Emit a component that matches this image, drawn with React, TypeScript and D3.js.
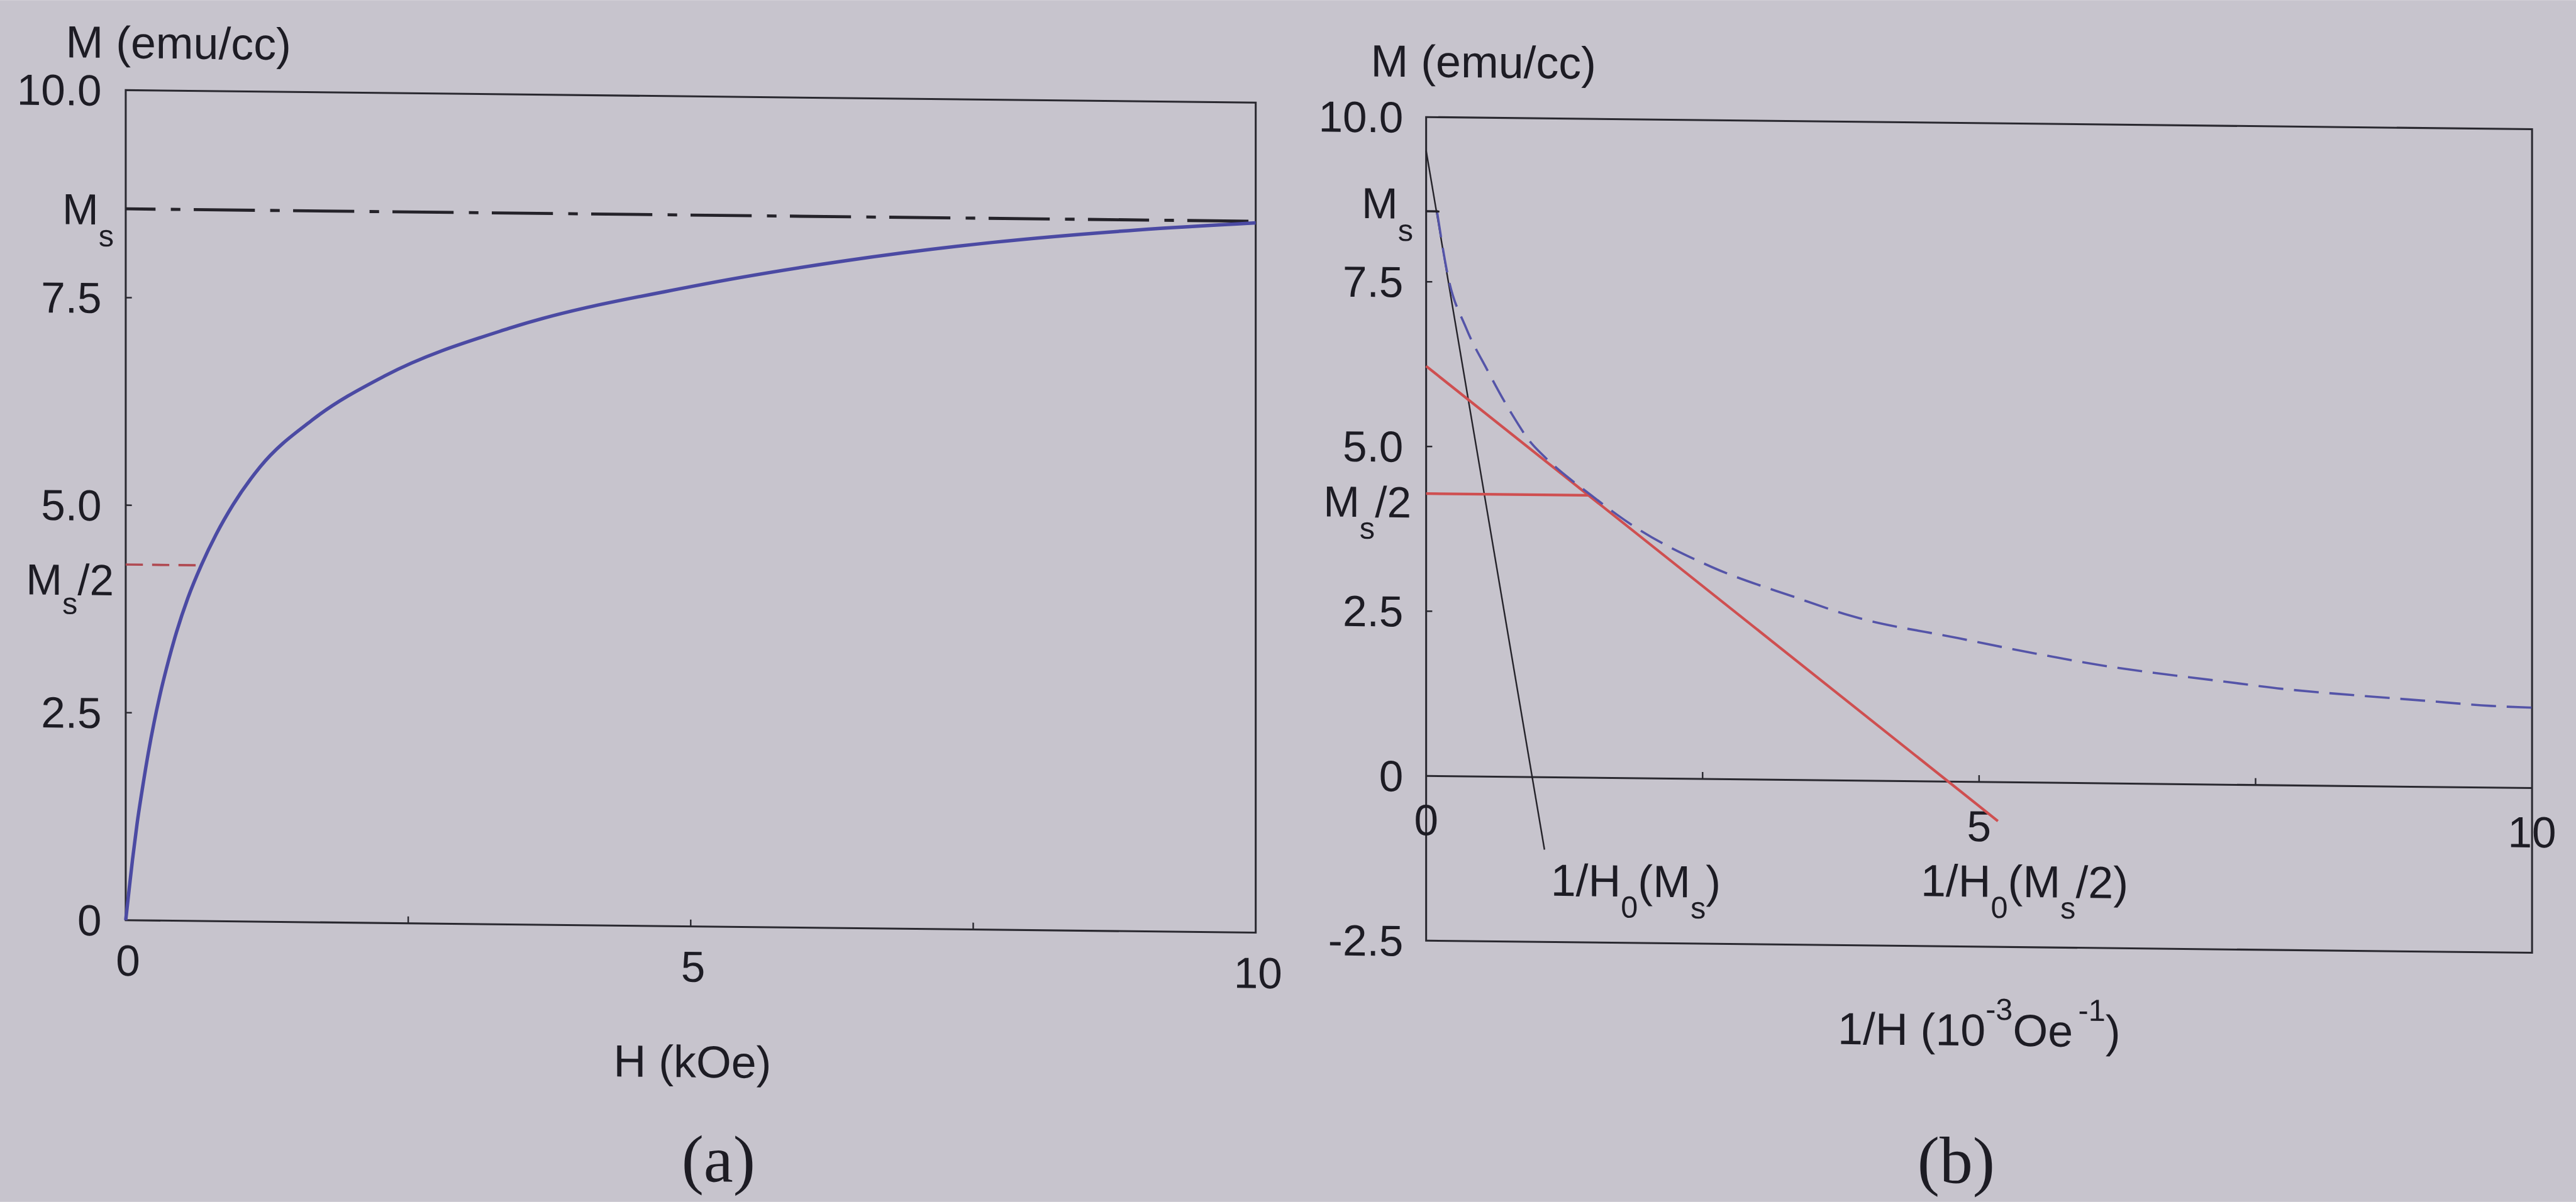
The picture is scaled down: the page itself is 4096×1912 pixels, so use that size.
import React from "react";
import * as d3 from "d3";

// Saturation magnetisation and its half value (emu/cc)
const MS = 8.57;
const MS_HALF = MS / 2;

// (a) magnetisation curve M(H)
const fieldKOe = [0, 0.03, 0.06, 0.1, 0.15, 0.2, 0.25, 0.3, 0.38, 0.45, 0.55, 0.67, 0.8, 0.95, 1.19, 1.65, 2.29, 3.39, 5.01, 6.37, 7.67, 8.96, 10];
const magA = [0, 0.37, 0.73, 1.16, 1.61, 2.02, 2.38, 2.7, 3.14, 3.48, 3.89, 4.29, 4.66, 5.02, 5.48, 6.05, 6.59, 7.18, 7.71, 8.04, 8.28, 8.45, 8.55];

// (b) the same curve against inverse field, 1/H in 10^-3 Oe^-1
const invField = [0.1, 0.197, 0.36, 0.55, 0.77, 0.95, 1.06, 1.49, 1.9, 2.58, 3.36, 3.84, 4.81, 5.54, 6.11, 7.19, 7.77, 8.39, 9.01, 9.63, 10];
const magB = [8.55, 7.59, 6.81, 6.18, 5.52, 5.07, 4.88, 4.29, 3.8, 3.22, 2.76, 2.5, 2.18, 1.95, 1.79, 1.57, 1.46, 1.38, 1.31, 1.24, 1.22];

// (b) tangent lines: [1/H, M] end points
const tangentAtMs: [number, number][] = [[0, 9.49], [1.07, -1.1]];
const tangentAtHalf: [number, number][] = [[0, 6.22], [5.17, -0.59]];
const msGuideEnd = 0.12;

// axis ticks
const aYTicks = [0, 2.5, 5, 7.5, 10];
const aXLabels = [0, 5, 10];
const aXMarks = [2.5, 5, 7.5];
const bYTicks = [-2.5, 0, 2.5, 5, 7.5, 10];
const bXLabels = [0, 5, 10];
const bXMarks = [2.5, 5, 7.5];
const yMarks = [2.5, 5, 7.5];

const W = 6741;
const H = 3146;
const SANS = "'Liberation Sans', Arial, Helvetica, sans-serif";
const SERIF = "'Liberation Serif', 'Times New Roman', serif";
const INK = "#1d1c24";
const TICK = 114;
const TITLE = 118;
const SUB = 80;

const fmt = (d: number) => (d === 0 ? "0" : d.toFixed(1));

function interpX(xs: number[], ys: number[], target: number) {
  for (let i = 1; i < xs.length; i++) {
    const y0 = ys[i - 1], y1 = ys[i];
    if ((y0 - target) * (y1 - target) <= 0 && y1 !== y0) {
      return xs[i - 1] + ((target - y0) / (y1 - y0)) * (xs[i] - xs[i - 1]);
    }
  }
  return xs[xs.length - 1];
}

export default function App() {
  const xA = d3.scaleLinear().domain([0, 10]).range([329, 3286]);
  const yA = d3.scaleLinear().domain([0, 10]).range([2405, 232]);
  const xB = d3.scaleLinear().domain([0, 10]).range([3732, 6626]);
  const yB = d3.scaleLinear().domain([-2.5, 10]).range([2421, 265]);

  const ptsA: [number, number][] = fieldKOe.map((h, i) => [h, magA[i]]);
  const ptsB: [number, number][] = invField.map((x, i) => [x, magB[i]]);

  const lineA = d3.line<[number, number]>().x(d => xA(d[0])).y(d => yA(d[1])).curve(d3.curveMonotoneX);
  const lineB = d3.line<[number, number]>().x(d => xB(d[0])).y(d => yB(d[1])).curve(d3.curveMonotoneX);
  const straightB = d3.line<[number, number]>().x(d => xB(d[0])).y(d => yB(d[1]));

  const halfCrossA = interpX(fieldKOe, magA, MS_HALF);
  const [t0, t1] = tangentAtHalf;
  const halfTouchB = t0[0] + ((MS_HALF - t0[1]) * (t1[0] - t0[0])) / (t1[1] - t0[1]);

  return (
    <svg
      width={4096}
      height={1912}
      viewBox={`0 0 ${W} ${H}`}
      style={{ position: "absolute", left: 0, top: 0 }}
    >
      <rect x={0} y={0} width={W} height={H} fill="#c7c4cd" />
      <g transform="matrix(1,0.011,0,1,0,0)" fill={INK} fontFamily={SANS}>
        {/* ---------- panel (a) ---------- */}
        <rect x={xA(0)} y={yA(10)} width={xA(10) - xA(0)} height={yA(0) - yA(10)} fill="none" stroke="#2a2930" strokeWidth={5} />
        {yMarks.map(v => (
          <line key={`aym${v}`} x1={xA(0)} x2={xA(0) + 16} y1={yA(v)} y2={yA(v)} stroke="#2a2930" strokeWidth={4} />
        ))}
        {aXMarks.map(v => (
          <line key={`axm${v}`} x1={xA(v)} x2={xA(v)} y1={yA(0)} y2={yA(0) - 18} stroke="#2a2930" strokeWidth={4} />
        ))}
        {aYTicks.map(v => (
          <text key={`ayt${v}`} x={266} y={yA(v) + 0.36 * TICK} fontSize={TICK} textAnchor="end">{fmt(v)}</text>
        ))}
        {aXLabels.map(v => (
          <text key={`axt${v}`} x={xA(v) + 6} y={2550} fontSize={TICK} textAnchor="middle">{v}</text>
        ))}
        <text x={172} y={148} fontSize={TITLE}>M (emu/cc)</text>
        <text x={1812} y={2800} fontSize={TITLE} textAnchor="middle">H (kOe)</text>
        <text x={1880} y={3072} fontSize={174} fontFamily={SERIF} textAnchor="middle">(a)</text>

        <text x={298} y={yA(MS) + 42} fontSize={TICK} textAnchor="end">
          M<tspan fontSize={SUB} dy={57}>s</tspan>
        </text>
        <text x={298} y={yA(MS_HALF) + 81} fontSize={TICK} textAnchor="end">
          M<tspan fontSize={SUB} dy={50}>s</tspan><tspan fontSize={TICK} dy={-50}>/2</tspan>
        </text>

        <line x1={xA(0)} x2={xA(10)} y1={yA(MS)} y2={yA(MS)} stroke="#25232a" strokeWidth={8} strokeDasharray="160,40,25,35" strokeDashoffset={82} />
        <line x1={xA(0)} x2={xA(halfCrossA)} y1={yA(MS_HALF)} y2={yA(MS_HALF)} stroke="#b04a52" strokeWidth={6} strokeDasharray="45,24" />
        <path d={lineA(ptsA) || ""} fill="none" stroke="#4b4aa3" strokeWidth={9} strokeLinejoin="round" />

        {/* ---------- panel (b) ---------- */}
        <rect x={xB(0)} y={yB(10)} width={xB(10) - xB(0)} height={yB(-2.5) - yB(10)} fill="none" stroke="#2a2930" strokeWidth={5} />
        <line x1={xB(0)} x2={xB(10)} y1={yB(0)} y2={yB(0)} stroke="#2a2930" strokeWidth={5} />
        {yMarks.map(v => (
          <line key={`bym${v}`} x1={xB(0)} x2={xB(0) + 16} y1={yB(v)} y2={yB(v)} stroke="#2a2930" strokeWidth={4} />
        ))}
        {bXMarks.map(v => (
          <line key={`bxm${v}`} x1={xB(v)} x2={xB(v)} y1={yB(0)} y2={yB(0) - 18} stroke="#2a2930" strokeWidth={4} />
        ))}
        {bYTicks.map(v => (
          <text key={`byt${v}`} x={3672} y={yB(v) + 0.36 * TICK} fontSize={TICK} textAnchor="end">{fmt(v)}</text>
        ))}
        {bXLabels.map(v => (
          <text key={`bxt${v}`} x={xB(v)} y={2145} fontSize={TICK} textAnchor="middle">{v}</text>
        ))}
        <text x={3587} y={160} fontSize={TITLE}>M (emu/cc)</text>
        <text x={5179} y={2680} fontSize={TITLE} textAnchor="middle">
          1/H (10<tspan fontSize={SUB} dy={-68}>-3</tspan><tspan dy={68}>Oe</tspan><tspan fontSize={SUB} dx={14} dy={-68}>-1</tspan><tspan dy={68}>)</tspan>
        </text>
        <text x={5119} y={3040} fontSize={174} fontFamily={SERIF} textAnchor="middle">(b)</text>

        <text x={3698} y={yB(MS) + 20} fontSize={TICK} textAnchor="end">
          M<tspan fontSize={SUB} dy={58}>s</tspan>
        </text>
        <text x={3693} y={yB(MS_HALF) + 63} fontSize={TICK} textAnchor="end">
          M<tspan fontSize={SUB} dy={57}>s</tspan><tspan fontSize={TICK} dy={-57}>/2</tspan>
        </text>

        <text x={4058} y={2300} fontSize={TITLE}>
          1/H<tspan fontSize={SUB} dy={55}>0</tspan><tspan fontSize={TITLE} dy={-55}>(M</tspan><tspan fontSize={SUB} dy={55}>s</tspan><tspan fontSize={TITLE} dy={-55}>)</tspan>
        </text>
        <text x={5026} y={2290} fontSize={TITLE}>
          1/H<tspan fontSize={SUB} dy={55}>0</tspan><tspan fontSize={TITLE} dy={-55}>(M</tspan><tspan fontSize={SUB} dy={55}>s</tspan><tspan fontSize={TITLE} dy={-55}>/2)</tspan>
        </text>

        <line x1={xB(0)} x2={xB(msGuideEnd)} y1={yB(MS)} y2={yB(MS)} stroke="#25232a" strokeWidth={6} />
        <path d={straightB(tangentAtMs) || ""} fill="none" stroke="#25232a" strokeWidth={4} />
        <line x1={xB(0)} x2={xB(halfTouchB)} y1={yB(MS_HALF)} y2={yB(MS_HALF)} stroke="#cf4f50" strokeWidth={7} />
        <path d={straightB(tangentAtHalf) || ""} fill="none" stroke="#cf4f50" strokeWidth={7} />
        <path d={lineB(ptsB) || ""} fill="none" stroke="#5454a8" strokeWidth={6} strokeDasharray="65,28" />
      </g>
    </svg>
  );
}
